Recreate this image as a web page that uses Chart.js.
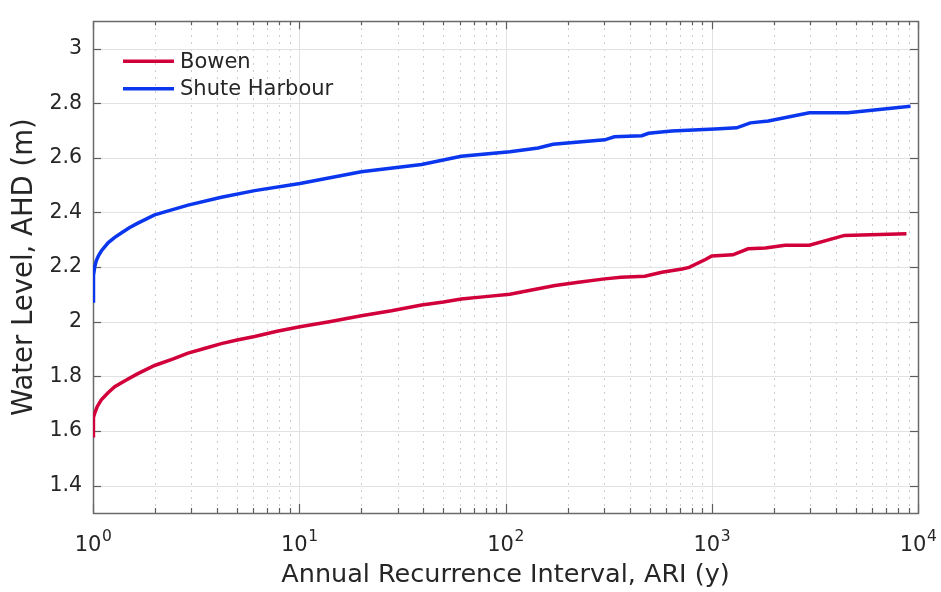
<!DOCTYPE html>
<html>
<head>
<meta charset="utf-8">
<script src="https://cdn.jsdelivr.net/npm/chart.js@4.4.1/dist/chart.umd.min.js"></script>
<style>
    html, body { margin: 0; padding: 0; background: #fff; }
    canvas { display: block; }
</style>
</head>
<body>
<canvas id="chart" width="941" height="592"></canvas>
<script>
// Annual recurrence interval (years) and water level (m AHD) for each site
const bowenAri = [1, 1.002, 1.008, 1.019, 1.049, 1.097, 1.183, 1.274, 1.45, 1.65, 1.99, 2.45, 2.89, 3.5, 4.19, 5.0, 6.08, 7.8, 10.08, 14, 20, 28, 39.2, 50, 61, 80, 105, 144, 174, 226, 303, 363, 474, 573, 718, 777, 937, 1000, 1266, 1500, 1820, 2265, 2974, 4400, 8790];
const bowenLevel = [1.583, 1.625, 1.65, 1.665, 1.69, 1.714, 1.74, 1.762, 1.787, 1.81, 1.84, 1.864, 1.885, 1.903, 1.92, 1.933, 1.946, 1.965, 1.982, 2.0, 2.022, 2.04, 2.061, 2.072, 2.083, 2.092, 2.101, 2.121, 2.133, 2.145, 2.157, 2.163, 2.167, 2.181, 2.193, 2.199, 2.229, 2.241, 2.245, 2.267, 2.27, 2.28, 2.28, 2.316, 2.322];

const shuteAri = [1, 1.003, 1.008, 1.019, 1.037, 1.06, 1.097, 1.183, 1.27, 1.371, 1.5, 1.65, 1.99, 2.89, 4.19, 6.08, 10.08, 20, 39.2, 61, 105, 144, 170, 303, 337, 458, 494, 640, 1035, 1321, 1539, 1881, 2974, 4567, 9200];
const shuteLevel = [2.076, 2.13, 2.17, 2.2, 2.223, 2.24, 2.259, 2.289, 2.308, 2.325, 2.344, 2.361, 2.391, 2.427, 2.456, 2.48, 2.506, 2.549, 2.576, 2.606, 2.622, 2.636, 2.65, 2.666, 2.677, 2.681, 2.69, 2.698, 2.706, 2.71, 2.728, 2.735, 2.765, 2.765, 2.789];

const yTicks = [1.4, 1.6, 1.8, 2, 2.2, 2.4, 2.6, 2.8, 3];
const xDecades = [0, 1, 2, 3, 4];
const seriesNames = ['Bowen', 'Shute Harbour'];
const seriesColors = ['#d1003b', '#0a36ee'];

const FONT = "'DejaVu Sans', sans-serif";
const TEXT = '#262626';

function toPoints(xs, ys) {
    return xs.map((x, i) => ({ x: x, y: ys[i] }));
}

// grid lines, axes box and inward tick marks, drawn under the data
const axesBox = {
    id: 'axesBox',
    beforeDatasetsDraw(chart) {
        const { ctx, chartArea: a, scales: { x, y } } = chart;
        const minor = [];
        const major = [];
        for (let d = 0; d < 4; d++) {
            major.push(Math.pow(10, d));
            for (let m = 2; m <= 9; m++) minor.push(m * Math.pow(10, d));
        }
        major.push(10000);

        ctx.save();
        ctx.lineWidth = 1;

        // dotted minor lines
        ctx.strokeStyle = '#bdbdbd';
        ctx.setLineDash([1.5, 5.5]);
        minor.forEach(v => {
            const px = Math.round(x.getPixelForValue(v)) + 0.5;
            ctx.beginPath();
            ctx.moveTo(px, a.top);
            ctx.lineTo(px, a.bottom);
            ctx.stroke();
        });
        ctx.setLineDash([]);

        // solid major lines
        ctx.strokeStyle = '#e2e2e2';
        major.forEach(v => {
            const px = Math.round(x.getPixelForValue(v)) + 0.5;
            ctx.beginPath();
            ctx.moveTo(px, a.top);
            ctx.lineTo(px, a.bottom);
            ctx.stroke();
        });
        yTicks.forEach(v => {
            const py = Math.round(y.getPixelForValue(v)) + 0.5;
            ctx.beginPath();
            ctx.moveTo(a.left, py);
            ctx.lineTo(a.right, py);
            ctx.stroke();
        });

        // tick marks pointing inward on all four sides
        ctx.strokeStyle = '#5c5c5c';
        ctx.lineWidth = 1.2;
        const mark = (x0, y0, x1, y1) => {
            ctx.beginPath();
            ctx.moveTo(x0, y0);
            ctx.lineTo(x1, y1);
            ctx.stroke();
        };
        minor.forEach(v => {
            const px = Math.round(x.getPixelForValue(v)) + 0.5;
            mark(px, a.bottom, px, a.bottom - 5);
            mark(px, a.top, px, a.top + 4);
        });
        major.forEach(v => {
            const px = Math.round(x.getPixelForValue(v)) + 0.5;
            mark(px, a.bottom, px, a.bottom - 9);
            mark(px, a.top, px, a.top + 8);
        });
        yTicks.forEach(v => {
            const py = Math.round(y.getPixelForValue(v)) + 0.5;
            mark(a.left, py, a.left + 8, py);
            mark(a.right, py, a.right - 8, py);
        });

        // box
        ctx.strokeStyle = '#6a6a6a';
        ctx.lineWidth = 1.5;
        ctx.strokeRect(Math.round(a.left) + 0.5, Math.round(a.top) + 0.5,
            Math.round(a.right - a.left), Math.round(a.bottom - a.top));
        ctx.restore();
    },
    afterDatasetsDraw(chart) {
        // legend inside the top-left corner
        const { ctx, chartArea: a } = chart;
        ctx.save();
        ctx.font = `21px ${FONT}`;
        ctx.textBaseline = 'middle';
        ctx.fillStyle = TEXT;
        ctx.lineWidth = 3.5;
        chart.data.datasets.forEach((ds, i) => {
            const ly = a.top + 40 + i * 27.6;
            ctx.strokeStyle = ds.borderColor;
            ctx.beginPath();
            ctx.moveTo(a.left + 30, ly);
            ctx.lineTo(a.left + 81, ly);
            ctx.stroke();
            ctx.fillText(ds.label, a.left + 87, ly + 1);
        });
        ctx.restore();
    },
    afterDraw(chart) {
        // decade labels with superscript exponents
        const { ctx, scales: { x } } = chart;
        const base = `21px ${FONT}`;
        const sup = `15.5px ${FONT}`;
        ctx.save();
        ctx.fillStyle = TEXT;
        ctx.textBaseline = 'alphabetic';
        ctx.textAlign = 'left';
        xDecades.forEach(e => {
            const px = x.getPixelForValue(Math.pow(10, e));
            ctx.font = base;
            const wb = ctx.measureText('10').width;
            ctx.font = sup;
            const we = ctx.measureText(String(e)).width;
            const left = px - (wb + we) / 2;
            ctx.font = base;
            ctx.fillText('10', left, 550.5);
            ctx.font = sup;
            ctx.fillText(String(e), left + wb + 0.5, 540.5);
        });
        ctx.restore();
    }
};

new Chart(document.getElementById('chart').getContext('2d'), {
    type: 'line',
    data: {
        datasets: [
            {
                label: seriesNames[0],
                data: toPoints(bowenAri, bowenLevel),
                borderColor: seriesColors[0],
                borderWidth: 3.5,
                pointRadius: 0,
                tension: 0,
                fill: false
            },
            {
                label: seriesNames[1],
                data: toPoints(shuteAri, shuteLevel),
                borderColor: seriesColors[1],
                borderWidth: 3.5,
                pointRadius: 0,
                tension: 0,
                fill: false
            }
        ]
    },
    options: {
        responsive: false,
        animation: false,
        devicePixelRatio: 1,
        layout: { padding: { top: 12, right: 23, bottom: 0, left: 0 } },
        plugins: {
            legend: { display: false },
            tooltip: { enabled: false }
        },
        scales: {
            x: {
                type: 'logarithmic',
                min: 1,
                max: 10000,
                afterFit: s => { s.height = 79; },
                grid: { display: false, drawTicks: false },
                border: { display: false },
                ticks: { display: false },
                title: {
                    display: true,
                    text: 'Annual Recurrence Interval, ARI (y)',
                    color: TEXT,
                    font: { family: FONT, size: 25.5 },
                    padding: { top: 0, bottom: 1 }
                }
            },
            y: {
                min: 1.3,
                max: 3.1,
                afterBuildTicks: s => { s.ticks = yTicks.map(v => ({ value: v })); },
                afterFit: s => { s.width = 93; },
                grid: { display: false, drawTicks: false },
                border: { display: false },
                ticks: {
                    color: TEXT,
                    padding: 11,
                    font: { family: FONT, size: 20.5, lineHeight: 1 },
                    callback: v => String(Number(v.toFixed(1)))
                },
                title: {
                    display: true,
                    text: 'Water Level, AHD (m)',
                    color: TEXT,
                    font: { family: FONT, size: 27.5 },
                    padding: { top: 8, bottom: 0 }
                }
            }
        }
    },
    plugins: [axesBox]
});
</script>
</body>
</html>
